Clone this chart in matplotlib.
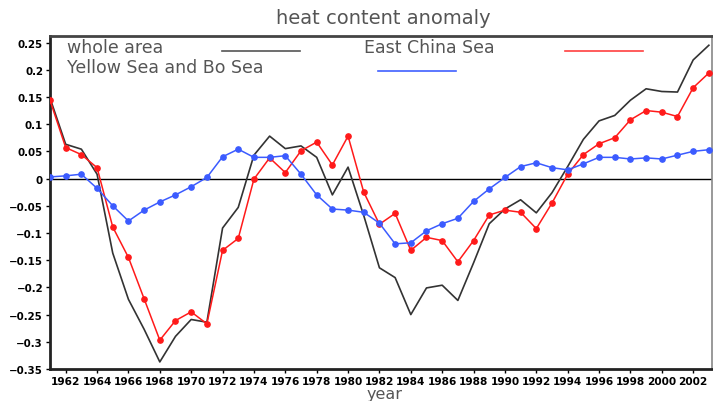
import matplotlib
matplotlib.use("Agg")
import matplotlib.pyplot as plt
import numpy as np

years = list(range(1961, 2004))

whole_area = [0.148, 0.063, 0.054, 0.008, -0.137, -0.222, -0.277, -0.337, -0.290, -0.259,
              -0.264, -0.091, -0.053, 0.043, 0.078, 0.055, 0.060, 0.039, -0.030, 0.021,
              -0.068, -0.164, -0.182, -0.250, -0.201, -0.196, -0.224, -0.155, -0.083, -0.056,
              -0.039, -0.063, -0.026, 0.022, 0.072, 0.106, 0.116, 0.144, 0.165, 0.160,
              0.159, 0.218, 0.245]

east_china_sea = [0.144, 0.057, 0.044, 0.020, -0.089, -0.145, -0.221, -0.297, -0.261, -0.245,
                  -0.267, -0.132, -0.110, -0.001, 0.038, 0.011, 0.051, 0.067, 0.025, 0.078,
                  -0.025, -0.084, -0.064, -0.132, -0.108, -0.114, -0.153, -0.114, -0.067, -0.058,
                  -0.062, -0.092, -0.045, 0.008, 0.044, 0.064, 0.075, 0.108, 0.125, 0.122,
                  0.114, 0.167, 0.194]

yellow_bo_sea = [0.003, 0.005, 0.008, -0.018, -0.050, -0.078, -0.058, -0.043, -0.030, -0.015,
                 0.002, 0.040, 0.054, 0.039, 0.039, 0.042, 0.008, -0.030, -0.056, -0.058,
                 -0.062, -0.082, -0.120, -0.118, -0.096, -0.083, -0.073, -0.042, -0.019, 0.002,
                 0.022, 0.029, 0.020, 0.016, 0.027, 0.039, 0.039, 0.036, 0.038, 0.036,
                 0.043, 0.050, 0.053]

xticks = list(range(1962, 2004, 2))
yticks = [-0.35, -0.3, -0.25, -0.2, -0.15, -0.1, -0.05, 0, 0.05, 0.1, 0.15, 0.2, 0.25]
ytick_labels = ["\u22120.35", "\u22120.3", "\u22120.25", "\u22120.2", "\u22120.15", "\u22120.1",
                "\u22120.05", "0", "0.05", "0.1", "0.15", "0.2", "0.25"]

fig = plt.figure(figsize=(7.13, 4.02), dpi=100)
ax = fig.add_axes([50/713, 1 - 370/402, 662/713, 333/402])

ax.axhline(0, color="black", lw=1.0, zorder=1)
ax.plot(years, whole_area, color="#333333", lw=1.2, zorder=2)
ax.plot(years, east_china_sea, color="#ff1a1a", lw=1.1, marker="o", ms=3.8, zorder=3)
ax.plot(years, yellow_bo_sea, color="#3b5bff", lw=1.1, marker="o", ms=3.8, zorder=3)

ax.set_xlim(1961, 2003.2)
ax.set_ylim(-0.35, 0.262)
ax.set_xticks(xticks)
ax.set_xticklabels([str(y) for y in xticks], fontsize=7.6, fontweight="bold")
ax.set_yticks(yticks)
ax.set_yticklabels(ytick_labels, fontsize=7.4, fontweight="bold")
ax.tick_params(axis="both", direction="out", length=3, width=1, pad=2)

for side in ["left", "bottom"]:
    ax.spines[side].set_linewidth(2.0)
    ax.spines[side].set_color("#222222")
ax.spines["top"].set_linewidth(2.0)
ax.spines["top"].set_color("#444444")
ax.spines["right"].set_linewidth(1.2)
ax.spines["right"].set_color("#888888")

txt_color = "#555555"
fig.text(383/713, 1 - 19/402, "heat content anomaly", ha="center", va="center",
         fontsize=14, color=txt_color)
fig.text(385/713, 1 - 395/402, "year", ha="center", va="center", fontsize=11.5, color=txt_color)

def legend_entry(x_text, y, label, x0, x1, color):
    fig.text(x_text/713, 1 - y/402, label, ha="left", va="center", fontsize=12.5, color=txt_color)
    fig.add_artist(plt.Line2D([x0/713, x1/713], [1 - (y + 4)/402, 1 - (y + 4)/402],
                              color=color, lw=1.2))

legend_entry(67, 48, "whole area", 222, 300, "#555555")
legend_entry(364, 48, "East China Sea", 565, 643, "#ff4040")
legend_entry(67, 68, "Yellow Sea and Bo Sea", 378, 456, "#4060ff")

fig.savefig("out.png", dpi=100)
